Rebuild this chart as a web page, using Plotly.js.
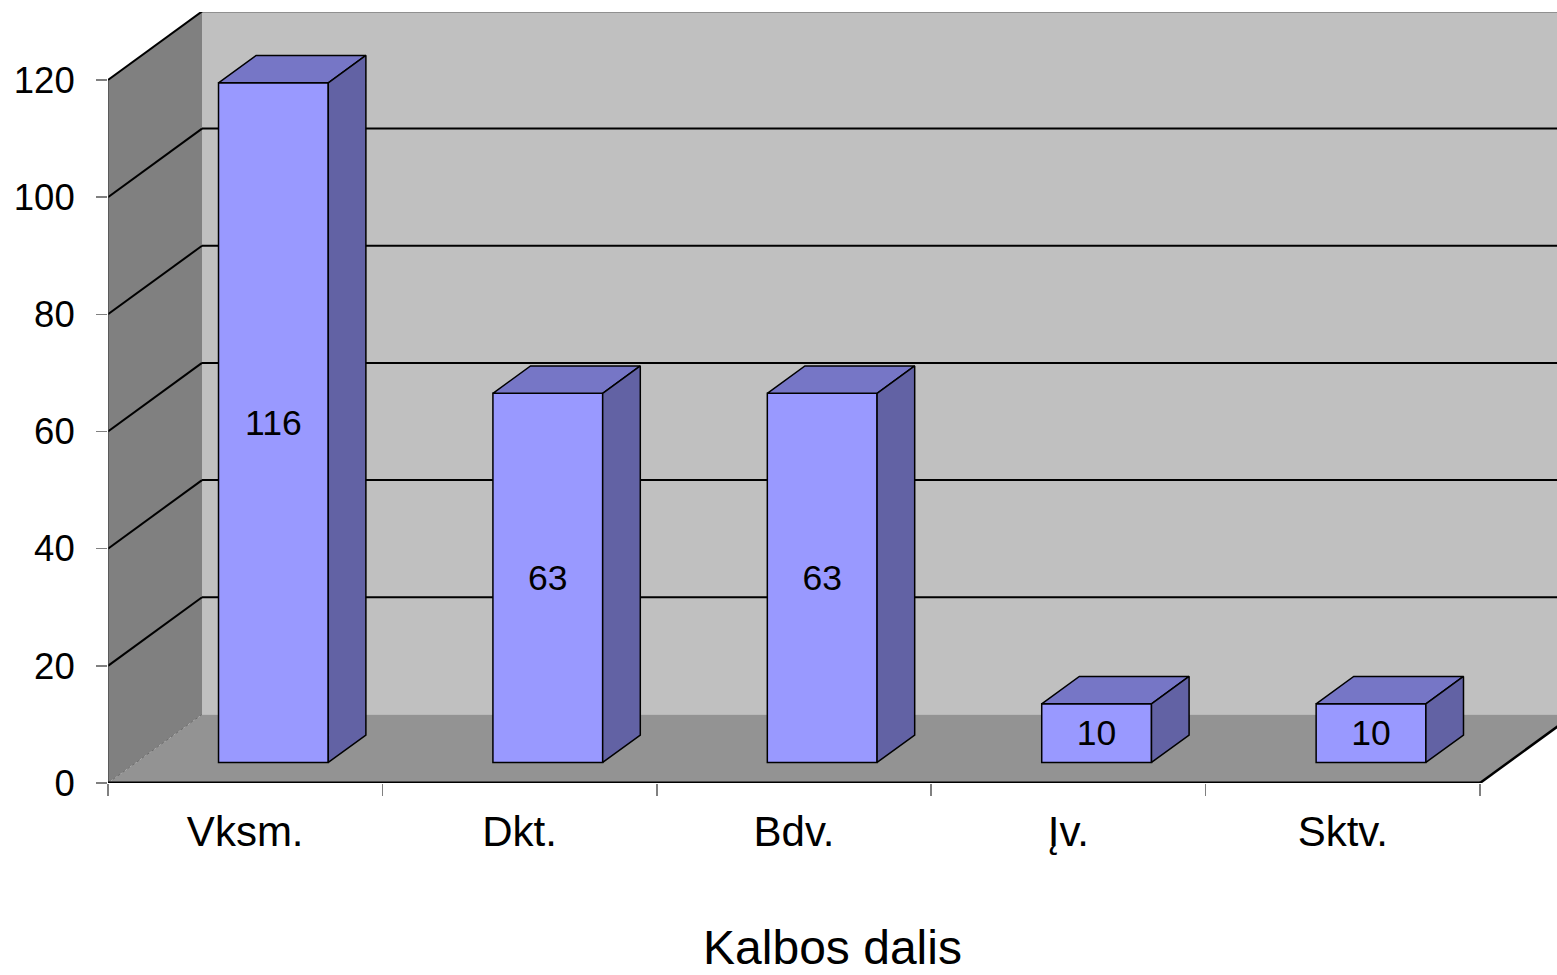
<!DOCTYPE html>
<html>
<head>
<meta charset="utf-8">
<script src="https://cdn.plot.ly/plotly-3.0.1.min.js"></script>
<style>html,body{margin:0;padding:0;background:#fff;}#chart{width:1557px;height:975px;}</style>
</head>
<body>
<div id="chart"></div>
<script>
const categories = ['Vksm.', 'Dkt.', 'Bdv.', 'Įv.', 'Sktv.'];
const values = [116, 63, 63, 10, 10];
const yTicks = [0, 20, 40, 60, 80, 100, 120];
const axisTitle = 'Kalbos dalis';

// 3D projection parameters (in axis units)
const DX = 0.3426, DY = 11.7;       // full depth offset
const F0 = 0.3, F1 = 0.7;           // bar depth span
const BW = 0.4;                     // bar width
const XMAX = 5.2806, YMAX = 131.6;
const NC = categories.length;
const YTOP = yTicks[yTicks.length - 1];

const FONT = 'Liberation Sans, Arial, sans-serif';
const FRONT = '#9999ff', TOP = '#7676c6', SIDE = '#6262a4';

const centers = categories.map((c, i) => i + 0.5);
const base = F0 * DY;
const barX = centers.map(c => c + F0 * DX);
const ddx = (F1 - F0) * DX, ddy = (F1 - F0) * DY;

const traces = [];
traces.push({
  type: 'bar', x: barX, y: values, base: base, width: BW,
  marker: {color: FRONT, line: {color: '#000', width: 1.5}},
  text: values.map(String), textposition: 'inside', insidetextanchor: 'middle',
  textangle: 0, constraintext: 'none',
  textfont: {family: FONT, size: 35.5, color: '#000'},
  hoverinfo: 'skip', showlegend: false
});
values.forEach((v, i) => {
  const xl = barX[i] - BW / 2, xr = barX[i] + BW / 2, yt = base + v;
  traces.push({
    type: 'scatter', mode: 'lines', fill: 'toself', fillcolor: TOP,
    x: [xl, xr, xr + ddx, xl + ddx, xl], y: [yt, yt, yt + ddy, yt + ddy, yt],
    line: {color: '#000', width: 1.5}, hoverinfo: 'skip', showlegend: false
  });
  traces.push({
    type: 'scatter', mode: 'lines', fill: 'toself', fillcolor: SIDE,
    x: [xr, xr + ddx, xr + ddx, xr, xr], y: [base, base + ddy, yt + ddy, yt, base],
    line: {color: '#000', width: 1.5}, hoverinfo: 'skip', showlegend: false
  });
});
// invisible trace to anchor the label axis
traces.push({type: 'scatter', mode: 'markers', x: centers, y: centers.map(() => 0),
  xaxis: 'x2', marker: {opacity: 0}, hoverinfo: 'skip', showlegend: false});

const shapes = [];
// back wall
shapes.push({type: 'rect', xref: 'x', yref: 'y', layer: 'below',
  x0: DX, x1: XMAX + 1, y0: DY, y1: YTOP + DY, fillcolor: '#c0c0c0', line: {width: 0}});
// left wall
shapes.push({type: 'path', xref: 'x', yref: 'y', layer: 'below',
  path: `M0,0 L${DX},${DY} L${DX},${YTOP + DY} L0,${YTOP} Z`, fillcolor: '#808080', line: {width: 0}});
// floor
shapes.push({type: 'path', xref: 'x', yref: 'y', layer: 'below',
  path: `M0,0 L${NC},0 L${NC + DX},${DY} L${DX},${DY} Z`, fillcolor: '#939393', line: {width: 0}});
// gridlines (back wall + left wall)
yTicks.forEach(t => {
  if (t === 0) {
    shapes.push({type: 'line', xref: 'x', yref: 'y', layer: 'below',
      x0: 0, y0: 0, x1: DX, y1: DY, line: {color: '#6a6a6a', width: 1, dash: 'dot'}});
    return;
  }
  shapes.push({type: 'line', xref: 'x', yref: 'y', layer: 'below',
    x0: DX, y0: t + DY, x1: XMAX + 1, y1: t + DY, line: {color: '#000', width: t === YTOP ? 1.5 : 2}});
  shapes.push({type: 'line', xref: 'x', yref: 'y', layer: 'below',
    x0: 0, y0: t, x1: DX, y1: t + DY, line: {color: '#000', width: 2}});
});
// vertical axis line
shapes.push({type: 'line', xref: 'x', yref: 'y', layer: 'below',
  x0: 0, y0: 0, x1: 0, y1: YTOP, line: {color: '#404040', width: 1.2}});
// floor front edge and right edge
shapes.push({type: 'line', xref: 'x', yref: 'y', layer: 'below',
  x0: 0, y0: 0, x1: NC, y1: 0, line: {color: '#000', width: 3}});
shapes.push({type: 'line', xref: 'x', yref: 'y', layer: 'below',
  x0: NC, y0: 0, x1: NC + DX, y1: DY, line: {color: '#000', width: 2.5}});

const boundaries = Array.from({length: NC + 1}, (_, i) => i);

const layout = {
  width: 1557, height: 975,
  margin: {l: 108, r: 0, t: 12, b: 192},
  paper_bgcolor: '#fff', plot_bgcolor: '#fff',
  font: {family: FONT, color: '#000'},
  showlegend: false, hovermode: false,
  xaxis: {range: [0, XMAX], tickvals: boundaries, ticktext: boundaries.map(() => ''),
    showticklabels: false, ticks: 'outside', ticklen: 12, tickwidth: 1.5, tickcolor: '#808080',
    showgrid: false, zeroline: false, showline: false, fixedrange: true},
  xaxis2: {overlaying: 'x', anchor: 'y', side: 'bottom', range: [0, XMAX],
    tickvals: centers, ticktext: categories, ticks: '', ticklabelstandoff: 20,
    tickfont: {family: FONT, size: 42, color: '#000'},
    showgrid: false, zeroline: false, showline: false, fixedrange: true,
    title: {text: axisTitle, font: {family: FONT, size: 48, color: '#000'}, standoff: 76}},
  yaxis: {range: [0, YMAX], tickvals: yTicks, ticks: 'outside', ticklen: 11, tickwidth: 1.5,
    tickcolor: '#808080', ticklabelstandoff: 14,
    tickfont: {family: FONT, size: 36.5, color: '#000'},
    showgrid: false, zeroline: false, showline: false, fixedrange: true},
  shapes: shapes
};

Plotly.newPlot('chart', traces, layout, {displayModeBar: false, staticPlot: true});
</script>
</body>
</html>
